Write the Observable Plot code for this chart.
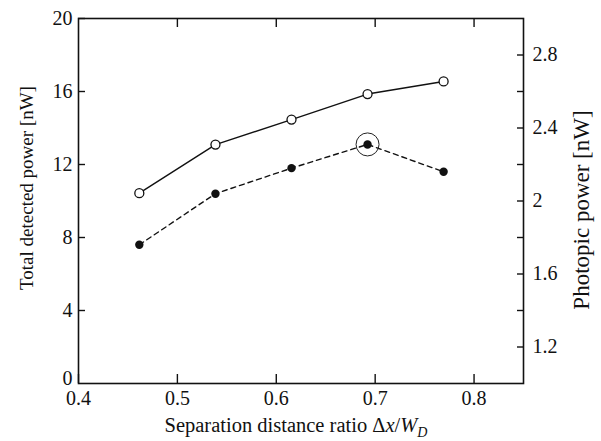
<!DOCTYPE html>
<html><head><meta charset="utf-8">
<script src="https://cdn.jsdelivr.net/npm/d3@7"></script>
<script src="https://cdn.jsdelivr.net/npm/@observablehq/plot@0.6"></script>
<style>
body{margin:0;background:#fff}
#chart svg{font-family:"Liberation Serif","Times New Roman",serif;background:#fff}
</style>
</head><body><div id="chart"></div>
<script>
// Data
const ratio = [0.4615, 0.5385, 0.6154, 0.6923, 0.7692];
const totalPower = [10.43, 13.09, 14.46, 15.86, 16.55];   // left axis [nW]
const photopicPower = [1.76, 2.04, 2.18, 2.31, 2.16];     // right axis [nW]
const peakIndex = 3;

const xTicks = [0.4, 0.5, 0.6, 0.7, 0.8];
const xTopTicks = [0.5, 0.6, 0.7, 0.8];
const leftTicks = [4, 8, 12, 16, 20];
const leftZeroTick = [0];
const rightTicks = [1.2, 1.4, 1.6, 1.8, 2.0, 2.2, 2.4, 2.6, 2.8];
const rightLabels = [1.2, 1.6, 2.0, 2.4, 2.8];

const xDomain = [0.4, 0.85];
const leftDomain = [0, 20];
const rightDomain = [1, 3];

// map right-axis values onto the left scale
const toLeft = p => leftDomain[0] + (p - rightDomain[0]) * (leftDomain[1] - leftDomain[0]) / (rightDomain[1] - rightDomain[0]);
const fromLeft = v => rightDomain[0] + (v - leftDomain[0]) * (rightDomain[1] - rightDomain[0]) / (leftDomain[1] - leftDomain[0]);

const total = ratio.map((x, i) => ({x, y: totalPower[i]}));
const photo = ratio.map((x, i) => ({x, y: toLeft(photopicPower[i])}));
const peak = [photo[peakIndex]];

const fmtR = d => String(+fromLeft(d).toFixed(1));

const chart = Plot.plot({
  width: 601,
  height: 441,
  marginLeft: 78,
  marginRight: 78,
  marginTop: 18,
  marginBottom: 58,
  style: {fontFamily: "Liberation Serif, serif", fontSize: "20px", color: "#111"},
  x: {domain: xDomain},
  y: {domain: leftDomain},
  marks: [
    Plot.axisX({anchor: "bottom", ticks: xTicks, tickSize: -9, tickPadding: 16, tickFormat: d3.format(".1f"), fontSize: 20, label: null, strokeWidth: 1.4}),
    Plot.axisX({anchor: "top", ticks: xTopTicks, tickSize: -8, tickPadding: 10, tickFormat: () => "", label: null, strokeWidth: 1.4}),
    Plot.axisY({anchor: "left", ticks: leftTicks, tickSize: -7, tickPadding: 13, tickFormat: d3.format("d"), fontSize: 20, label: null, strokeWidth: 1.4}),
    Plot.axisY({anchor: "left", ticks: leftZeroTick, tickSize: 0, tickPadding: 6, dy: -5, tickFormat: d3.format("d"), fontSize: 20, label: null}),
    Plot.axisY({anchor: "right", ticks: rightTicks.map(toLeft), tickSize: -7, tickPadding: 10, tickFormat: () => "", label: null, strokeWidth: 1.4}),
    Plot.axisY({anchor: "right", ticks: rightLabels.map(toLeft), tickSize: 0, tickPadding: 9, tickFormat: fmtR, fontSize: 20, label: null}),
    Plot.frame({stroke: "#111", strokeWidth: 1.6}),
    Plot.line(total, {x: "x", y: "y", stroke: "#111", strokeWidth: 1.4}),
    Plot.line(photo, {x: "x", y: "y", stroke: "#111", strokeWidth: 1.4, strokeDasharray: "5,4"}),
    Plot.dot(total, {x: "x", y: "y", r: 4.5, fill: "white", stroke: "#111", strokeWidth: 1.3}),
    Plot.dot(photo, {x: "x", y: "y", r: 4.2, fill: "#111", stroke: "none"}),
    Plot.dot(peak, {x: "x", y: "y", r: 11.5, fill: "none", stroke: "#222", strokeWidth: 1})
  ]
});
document.getElementById("chart").appendChild(chart);

// axis titles
const svg = d3.select(chart);
svg.append("text")
  .attr("transform", "translate(33,188) rotate(-90)")
  .attr("text-anchor", "middle")
  .attr("font-size", 19).attr("fill", "#111")
  .text("Total detected power [nW]");
svg.append("text")
  .attr("transform", "translate(589,210) rotate(-90)")
  .attr("text-anchor", "middle")
  .attr("font-size", 23).attr("fill", "#111")
  .text("Photopic power [nW]");
const xt = svg.append("text")
  .attr("x", 296).attr("y", 432)
  .attr("text-anchor", "middle")
  .attr("font-size", 20.5).attr("fill", "#111");
xt.append("tspan").text("Separation distance ratio Δ");
xt.append("tspan").attr("font-style", "italic").text("x");
xt.append("tspan").text("/");
xt.append("tspan").attr("font-style", "italic").text("W");
xt.append("tspan").attr("font-style", "italic").attr("font-size", 14).attr("dy", 5).text("D");
</script>
</body></html>
